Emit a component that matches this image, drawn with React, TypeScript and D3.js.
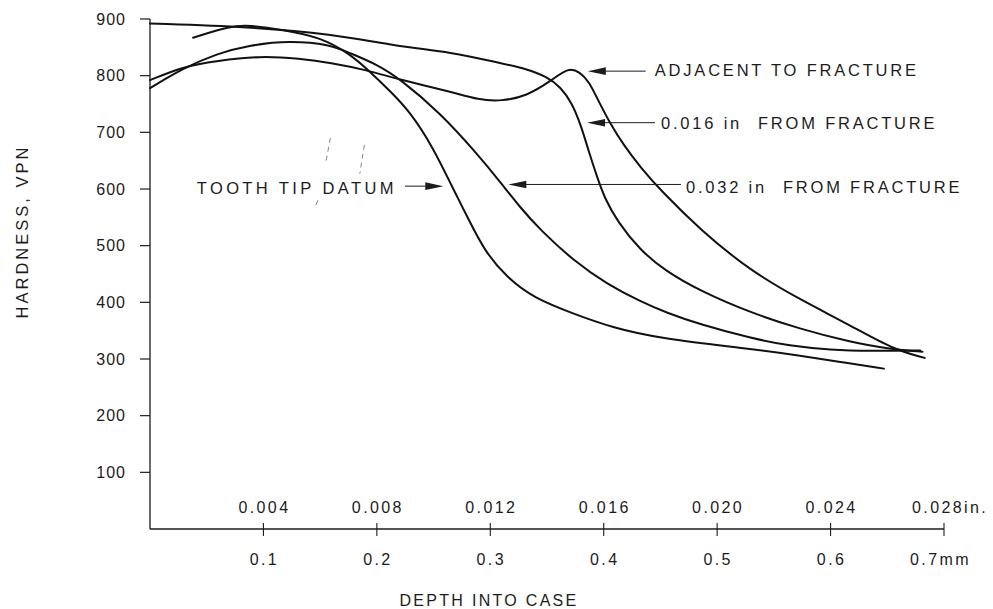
import React from "react";
import * as d3 from "d3";

// ---- axis ticks ----
const mmTicks = [0.1, 0.2, 0.3, 0.4, 0.5, 0.6, 0.7];
const mmLabels = ["0.1", "0.2", "0.3", "0.4", "0.5", "0.6", "0.7mm"];
const inchLabels = ["0.004", "0.008", "0.012", "0.016", "0.020", "0.024", "0.028in."];
const vpnTicks = [100, 200, 300, 400, 500, 600, 700, 800, 900];

// ---- series (depth in mm, hardness in VPN) ----
const adjacentDepth = [0, 0.029, 0.059, 0.097, 0.132, 0.159, 0.191, 0.22, 0.265, 0.29, 0.31, 0.332, 0.353, 0.369, 0.379, 0.387, 0.395, 0.405, 0.418, 0.433, 0.45, 0.485, 0.529, 0.573, 0.617, 0.655, 0.683];
const adjacentHardness = [792, 816, 826, 835, 830, 823, 810, 793, 772, 757, 755, 764, 790, 815, 806, 790, 757, 718, 676, 637, 598, 528, 456, 405, 360, 317, 302];

const in016Depth = [0, 0.088, 0.159, 0.22, 0.265, 0.309, 0.332, 0.35, 0.362, 0.372, 0.38, 0.387, 0.394, 0.401, 0.412, 0.432, 0.454, 0.485, 0.529, 0.573, 0.617, 0.653, 0.681];
const in016Hardness = [892, 886, 874, 851, 842, 822, 812, 798, 780, 752, 712, 665, 622, 583, 543, 492, 456, 420, 382, 353, 330, 317, 313];

const in032Depth = [0, 0.029, 0.059, 0.088, 0.123, 0.159, 0.176, 0.2, 0.22, 0.256, 0.288, 0.309, 0.326, 0.344, 0.373, 0.403, 0.432, 0.456, 0.485, 0.529, 0.564, 0.6, 0.635, 0.679];
const in032Hardness = [778, 813, 839, 854, 862, 855, 840, 820, 795, 734, 663, 612, 568, 528, 474, 432, 402, 381, 361, 337, 323, 316, 314, 315];

const toothDepth = [0.038, 0.071, 0.088, 0.117, 0.15, 0.176, 0.194, 0.212, 0.229, 0.25, 0.266, 0.28, 0.295, 0.315, 0.338, 0.373, 0.408, 0.45, 0.529, 0.573, 0.608, 0.647];
const toothHardness = [867, 888, 889, 881, 868, 839, 807, 772, 737, 672, 605, 550, 490, 443, 408, 380, 355, 336, 318, 306, 295, 283];

const seriesNames = ["ADJACENT TO FRACTURE", "0.016 in FROM FRACTURE", "0.032 in FROM FRACTURE", "TOOTH TIP DATUM"];

// ---- annotations (data units) ----
const arrowTips = [0.386, 0.3853, 0.3159, 0.2586];
const arrowTails = [0.437, 0.4452, 0.4681, 0.2248];
const arrowLevels = [808, 717, 608, 605];
const labelDepths = [0.445, 0.4505, 0.536, 0.4725, 0.558, 0.0412];
const labelLevels = [800, 706, 706, 593, 593, 592];
const labelTexts = ["ADJACENT TO FRACTURE", "0.016 in", "FROM FRACTURE", "0.032 in", "FROM FRACTURE", "TOOTH TIP DATUM"];
const labelSpacing = [2.8, 2.8, 2.8, 2.8, 2.8, 3.4];

// faint scan marks near the tooth tip label: [d1, h1, d2, h2]
const scanMarks = [
  [0.159, 690, 0.155, 647],
  [0.189, 678, 0.185, 627],
  [0.148, 580, 0.145, 566],
];

const W = 993;
const H = 609;
const FONT = "'Liberation Sans', Arial, Helvetica, sans-serif";
const INK = "#1c1c1c";

export default function App() {
  const x = d3.scaleLinear().domain([0, 0.7]).range([150, 944]);
  const y = d3.scaleLinear().domain([0, 900]).range([529, 19]);

  const line = d3
    .line<[number, number]>()
    .x((d) => x(d[0]))
    .y((d) => y(d[1]))
    .curve(d3.curveBasis);

  const series = [
    d3.zip(adjacentDepth, adjacentHardness),
    d3.zip(in016Depth, in016Hardness),
    d3.zip(in032Depth, in032Hardness),
    d3.zip(toothDepth, toothHardness),
  ] as [number, number][][];

  const y0 = y(0);

  return (
    <svg
      width={W}
      height={H}
      viewBox={`0 0 ${W} ${H}`}
      style={{ position: "absolute", left: 0, top: 0, background: "#fff" }}
      fontFamily={FONT}
    >
      <rect width={W} height={H} fill="#fff" />

      {/* Y axis */}
      <line x1={x(0)} x2={x(0)} y1={y(900)} y2={y0} stroke={INK} strokeWidth={1.3} />
      {vpnTicks.map((t) => (
        <g key={t}>
          <line x1={x(0) - 10} x2={x(0)} y1={y(t)} y2={y(t)} stroke={INK} strokeWidth={1.2} />
          <text
            x={x(0) - 24}
            y={y(t)}
            dy="0.36em"
            textAnchor="end"
            fontSize={16}
            letterSpacing={1}
            fill={INK}
          >
            {t}
          </text>
        </g>
      ))}

      {/* X axis */}
      <line x1={x(0)} x2={x(0.7)} y1={y0} y2={y0} stroke={INK} strokeWidth={1.3} />
      {mmTicks.map((t, i) => (
        <g key={t}>
          <line x1={x(t)} x2={x(t)} y1={y0 - 6} y2={y0 + 7} stroke={INK} strokeWidth={1.1} />
          <text
            x={i === mmTicks.length - 1 ? x(t) - 34 : x(t) + 1}
            y={y0 + 36}
            textAnchor={i === mmTicks.length - 1 ? "start" : "middle"}
            fontSize={16}
            letterSpacing={2.4}
            fill={INK}
          >
            {mmLabels[i]}
          </text>
          <text
            x={i === mmTicks.length - 1 ? x(t) - 32 : x(t) + 1}
            y={y0 - 16}
            textAnchor={i === mmTicks.length - 1 ? "start" : "middle"}
            fontSize={16}
            letterSpacing={2.4}
            fill={INK}
          >
            {inchLabels[i]}
          </text>
        </g>
      ))}

      {/* axis titles */}
      <text
        x={(x(0) + x(0.7)) / 2 - 58}
        y={606}
        textAnchor="middle"
        fontSize={16}
        letterSpacing={2.3}
        fill={INK}
      >
        DEPTH INTO CASE
      </text>
      <text
        transform={`translate(28, ${y(525)}) rotate(-90)`}
        textAnchor="middle"
        fontSize={16.5}
        letterSpacing={3}
        fill={INK}
      >
        HARDNESS,  VPN
      </text>

      {/* curves */}
      {series.map((s, i) => (
        <path
          key={seriesNames[i]}
          d={line(s) || ""}
          fill="none"
          stroke="#111"
          strokeWidth={2}
          strokeLinejoin="round"
          strokeLinecap="round"
        />
      ))}

      {/* arrows */}
      {arrowTips.map((tip, i) => {
        const tx = x(tip);
        const ty = y(arrowLevels[i]);
        const tail = x(arrowTails[i]);
        const dir = tail > tx ? 1 : -1;
        const len = 18;
        return (
          <g key={i}>
            <line x1={tail} x2={tx + dir * len * 0.6} y1={ty} y2={ty} stroke={INK} strokeWidth={1} />
            <path
              d={`M${tx},${ty} L${tx + dir * len},${ty - 3.8} L${tx + dir * len},${ty + 3.8} Z`}
              fill={INK}
            />
          </g>
        );
      })}

      {/* labels */}
      {labelTexts.map((t, i) => (
        <text
          key={i}
          x={x(labelDepths[i])}
          y={y(labelLevels[i])}
          fontSize={16.5}
          letterSpacing={labelSpacing[i]}
          fill={INK}
        >
          {t}
        </text>
      ))}

      {/* faint scan marks */}
      {scanMarks.map((m, i) => (
        <line
          key={i}
          x1={x(m[0])}
          y1={y(m[1])}
          x2={x(m[2])}
          y2={y(m[3])}
          stroke="#666"
          strokeWidth={0.8}
          strokeDasharray="5,4"
        />
      ))}
    </svg>
  );
}
